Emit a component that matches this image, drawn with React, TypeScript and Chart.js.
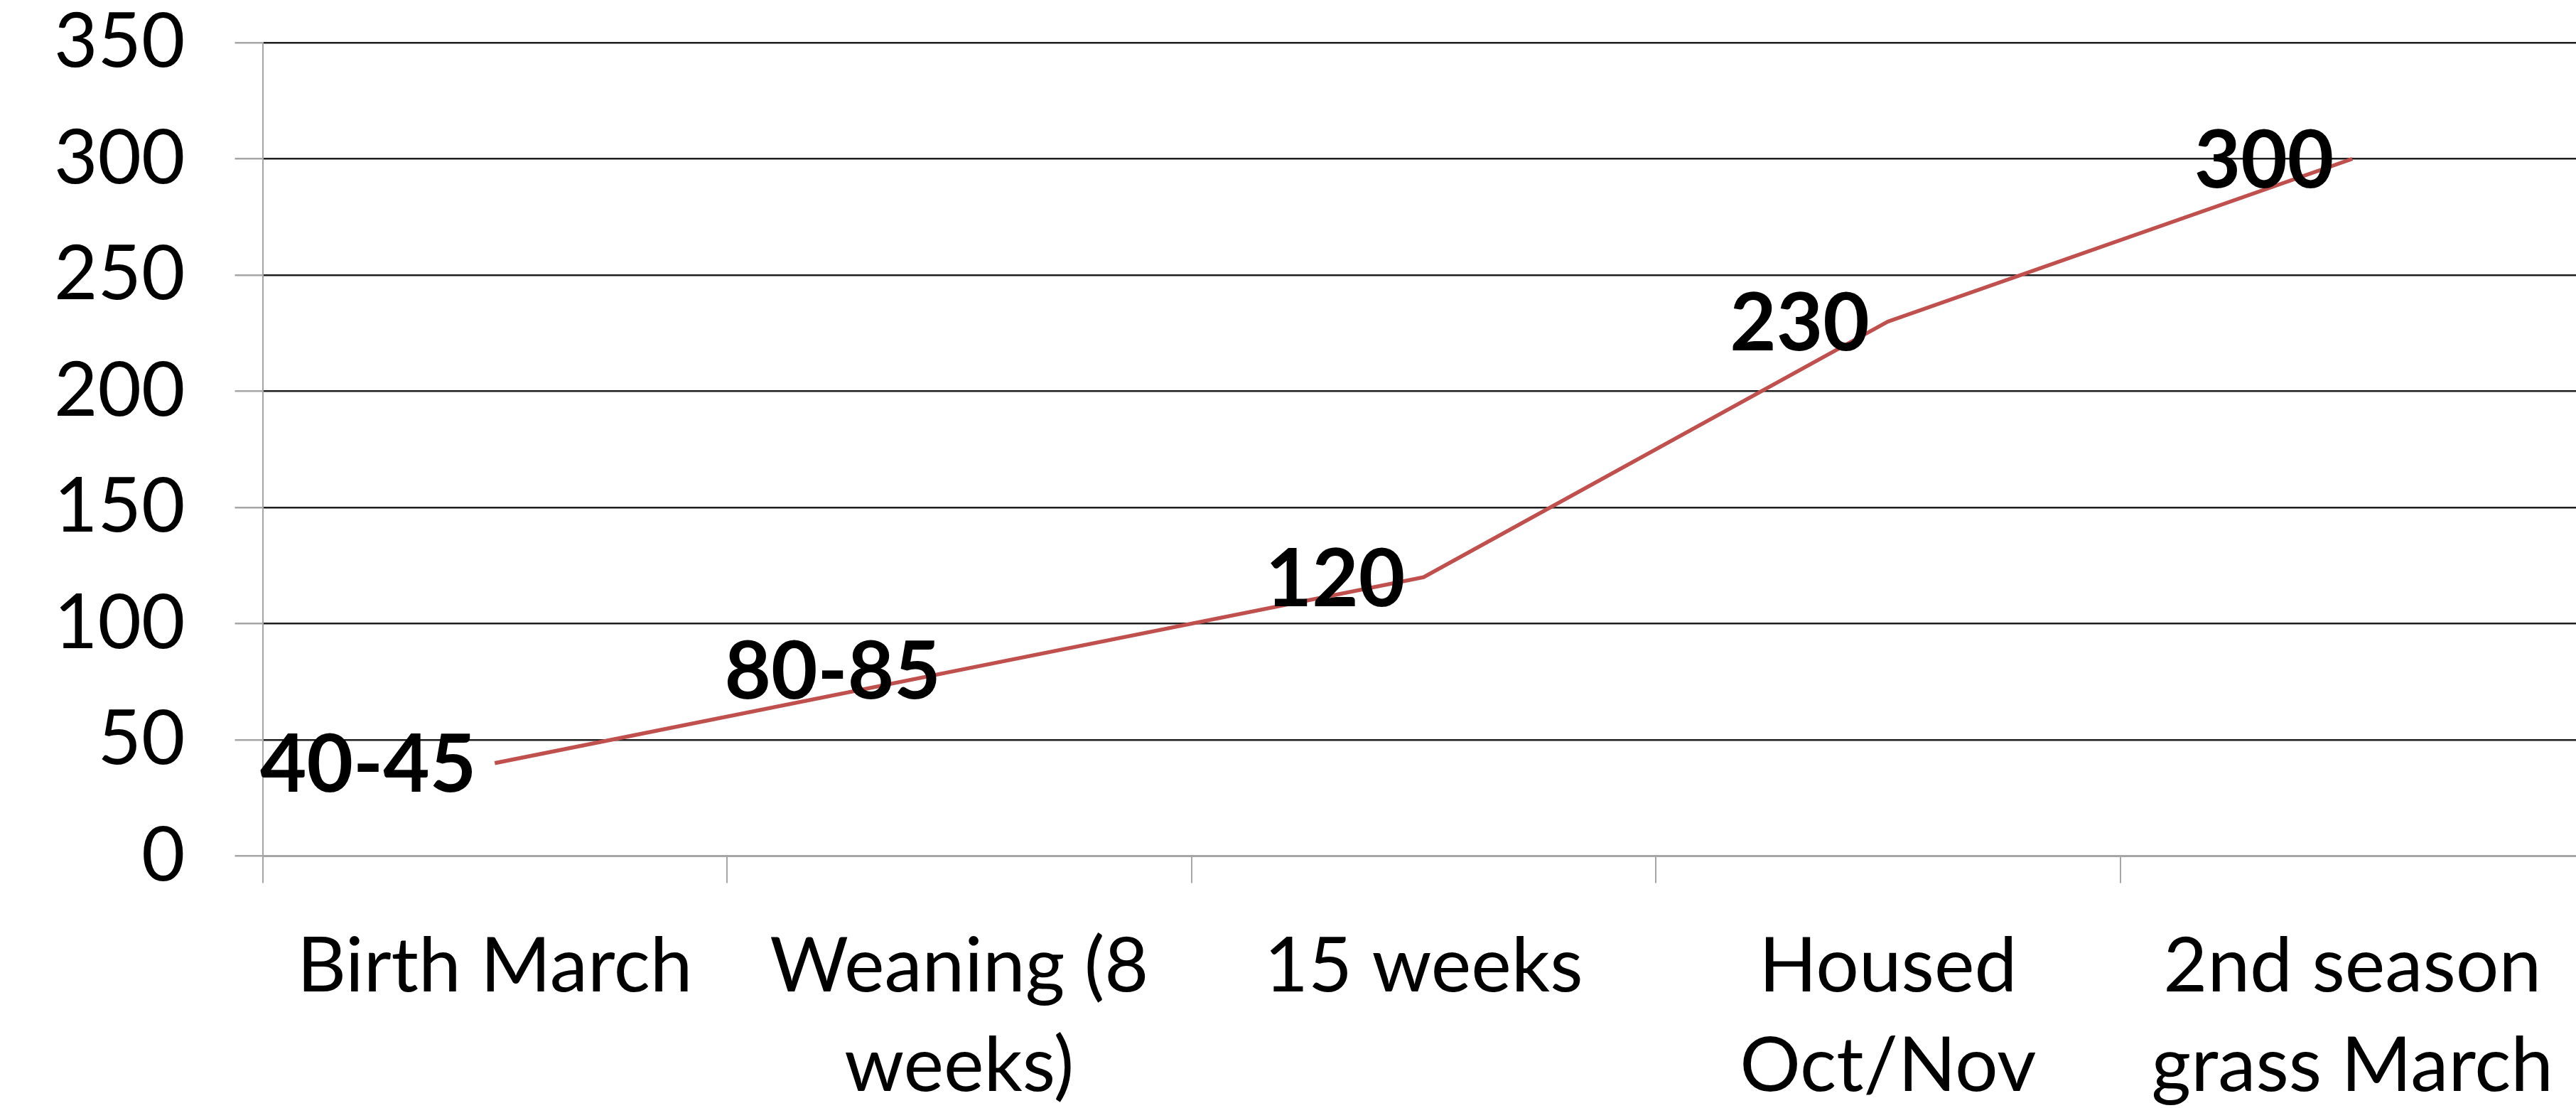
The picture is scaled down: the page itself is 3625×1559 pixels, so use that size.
import React, { useEffect, useRef } from "react";
import { Chart, registerables } from "chart.js";

Chart.register(...registerables);

const categories: string[][] = [
  ["Birth March"],
  ["Weaning (8", "weeks)"],
  ["15 weeks"],
  ["Housed", "Oct/Nov"],
  ["2nd season", "grass March"],
];
const weights: number[] = [40, 80, 120, 230, 300];
const pointLabels: string[] = ["40-45", "80-85", "120", "230", "300"];
const yTicks: number[] = [0, 50, 100, 150, 200, 250, 300, 350];

const FONT = "Lato, 'Open Sans', sans-serif";
const CANVAS_W = 3700;
const CANVAS_H = 1559;
const PLOT_LEFT = 369.5;
const PLOT_RIGHT = 3637;
const PLOT_TOP = 60;
const PLOT_BOTTOM = 1204.5;

const labelPlugin = {
  id: "pointLabelsLeft",
  afterDatasetsDraw(chart: any) {
    const ctx = chart.ctx;
    const meta = chart.getDatasetMeta(0);
    ctx.save();
    ctx.font = `bold 113px ${FONT}`;
    ctx.fillStyle = "#000000";
    ctx.textAlign = "right";
    ctx.textBaseline = "middle";
    meta.data.forEach((pt: any, i: number) => {
      ctx.fillText(pointLabels[i], pt.x - 26, pt.y + 4);
    });
    ctx.restore();
  },
};

export default function App() {
  const ref = useRef<HTMLCanvasElement | null>(null);

  useEffect(() => {
    if (!ref.current) return;
    const chart = new Chart(ref.current, {
      type: "line",
      data: {
        labels: categories,
        datasets: [
          {
            data: weights,
            borderColor: "#C0504D",
            borderWidth: 5.5,
            pointRadius: 0,
            pointHoverRadius: 0,
            tension: 0,
            fill: false,
          },
        ],
      },
      options: {
        animation: false,
        responsive: false,
        maintainAspectRatio: false,
        devicePixelRatio: 1,
        layout: { padding: { top: 0, right: CANVAS_W - PLOT_RIGHT, left: 0, bottom: 0 } },
        plugins: {
          legend: { display: false },
          title: { display: false },
          tooltip: { enabled: false },
        },
        scales: {
          x: {
            type: "category",
            offset: true,
            grid: {
              display: true,
              offset: true,
              drawOnChartArea: false,
              drawTicks: true,
              tickLength: 38,
              color: "#a6a6a6",
              tickColor: "#a6a6a6",
              lineWidth: 2,
            },
            border: { display: true, color: "#a6a6a6", width: 2 },
            ticks: {
              color: "#000000",
              font: { family: FONT, size: 107, lineHeight: 1.31 },
              padding: 48,
              maxRotation: 0,
              minRotation: 0,
              autoSkip: false,
            },
            afterFit: (scale: any) => {
              scale.height = CANVAS_H - PLOT_BOTTOM;
              scale.paddingLeft = 0;
              scale.paddingRight = 0;
            },
          },
          y: {
            min: 0,
            max: 350,
            afterBuildTicks: (scale: any) => {
              scale.ticks = yTicks.map((v) => ({ value: v }));
            },
            grid: {
              display: true,
              drawTicks: true,
              tickLength: 39,
              color: (c: any) => (c.tick && c.tick.value === 0 ? "#a6a6a6" : "#1e1e1e"),
              tickColor: "#a6a6a6",
              lineWidth: 2.5,
            },
            border: { display: true, color: "#a6a6a6", width: 2 },
            ticks: {
              color: "#000000",
              font: { family: FONT, size: 106, lineHeight: 1 },
              padding: 70,
            },
            afterFit: (scale: any) => {
              scale.width = PLOT_LEFT;
              scale.paddingTop = PLOT_TOP;
              scale.paddingBottom = 0;
            },
          },
        },
      },
      plugins: [labelPlugin],
    });
    return () => chart.destroy();
  }, []);

  return (
    <div
      style={{
        position: "fixed",
        left: 0,
        top: 0,
        width: "100vw",
        height: "100vh",
        overflow: "hidden",
        background: "#ffffff",
      }}
    >
      <canvas
        ref={ref}
        width={CANVAS_W}
        height={CANVAS_H}
        style={{ position: "absolute", left: 0, top: 0, width: CANVAS_W, height: CANVAS_H }}
      />
    </div>
  );
}
